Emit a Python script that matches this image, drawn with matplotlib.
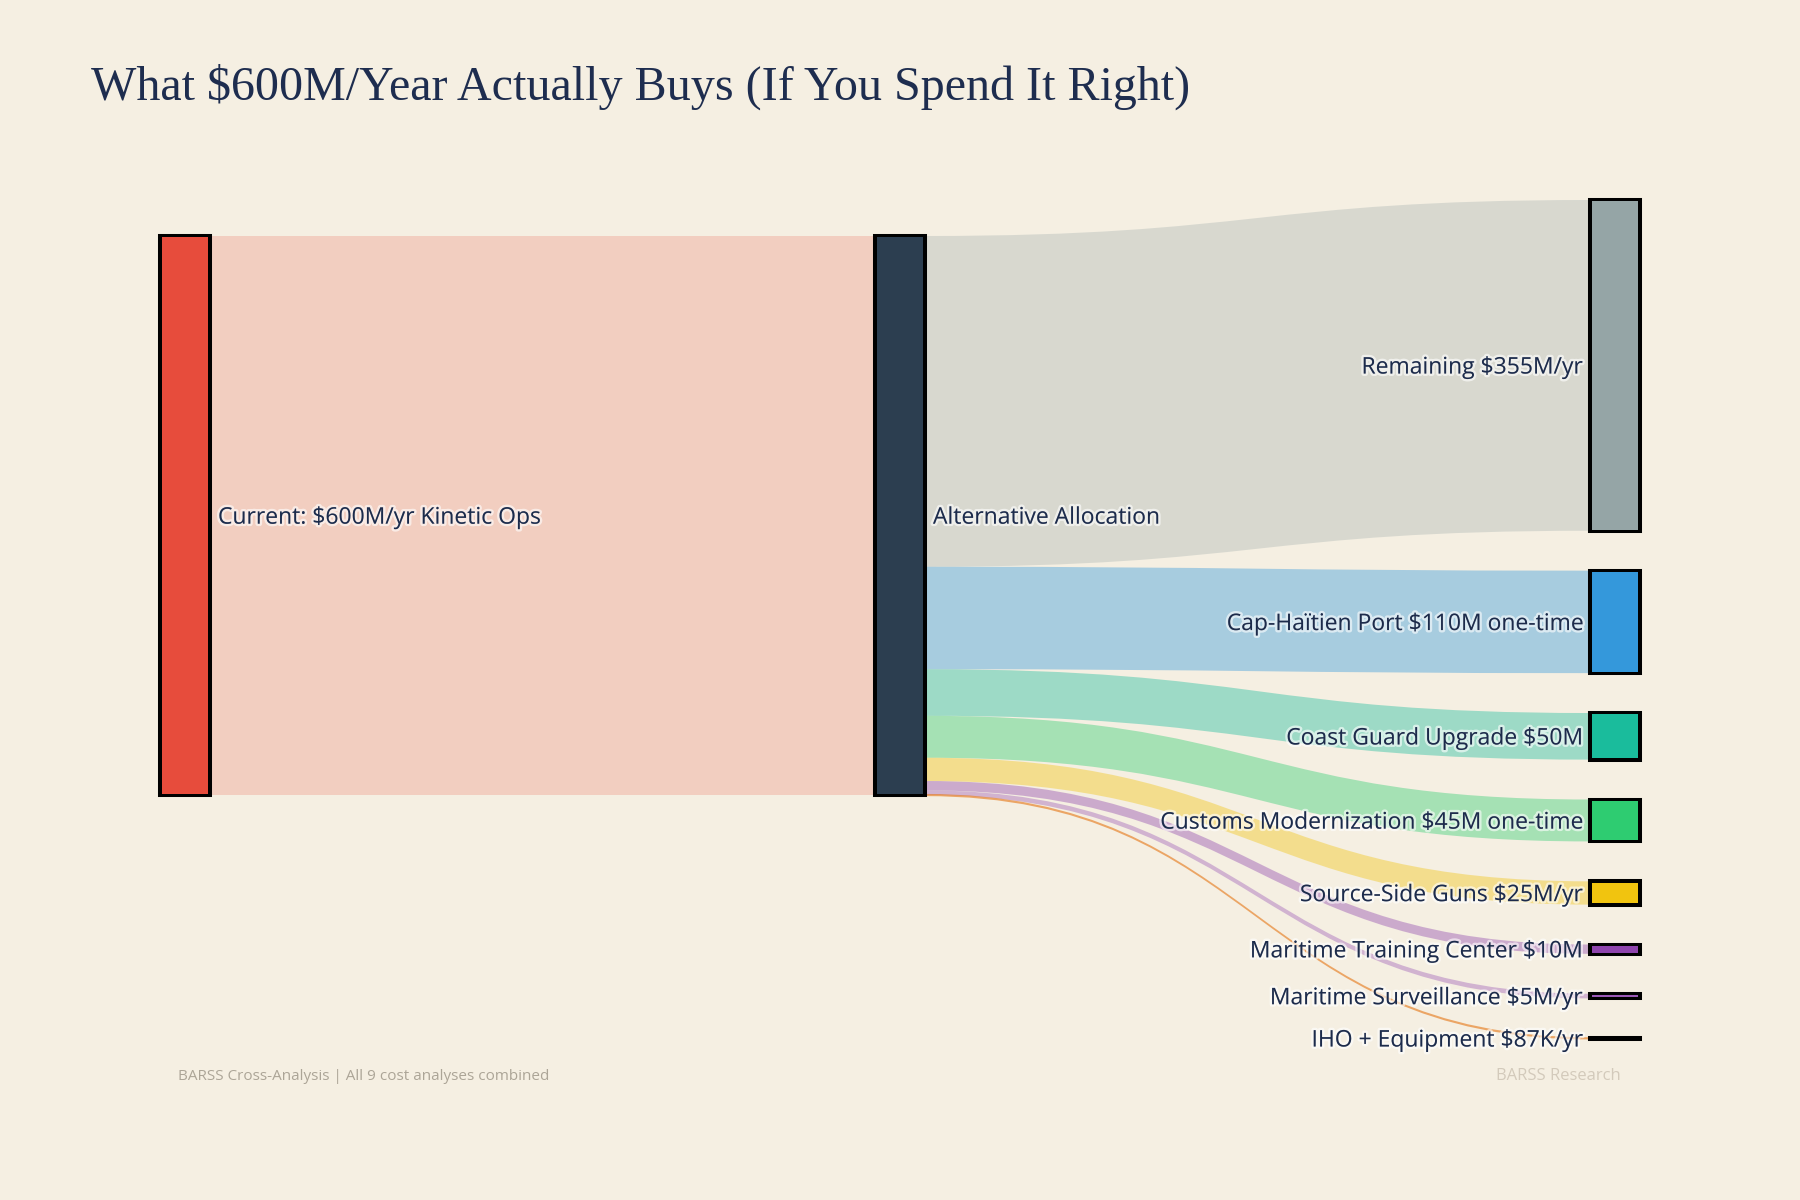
import matplotlib
matplotlib.use("Agg")
import matplotlib.pyplot as plt
from matplotlib.path import Path
from matplotlib.patches import PathPatch, Rectangle
import matplotlib.patheffects as pe

# ---------------- data ----------------
source_label = "Current: $600M/yr Kinetic Ops"
source_value = 600
middle_label = "Alternative Allocation"
target_labels = [
    "Remaining $355M/yr",
    "Cap-Haïtien Port $110M one-time",
    "Coast Guard Upgrade $50M",
    "Customs Modernization $45M one-time",
    "Source-Side Guns $25M/yr",
    "Maritime Training Center $10M",
    "Maritime Surveillance $5M/yr",
    "IHO + Equipment $87K/yr",
]
target_values = [355, 110, 50, 45, 25, 10, 5, 0.087]
target_colors = ["#95a5a6", "#3498db", "#1abc9c", "#2ecc71", "#f1c40f",
                 "#8e44ad", "#9b59b6", "#e67e22"]
link_alphas = [0.3, 0.4, 0.4, 0.4, 0.4, 0.4, 0.4, 0.65]
source_color = "#e74c3c"
middle_color = "#2c3e50"
title = "What $600M/Year Actually Buys (If You Spend It Right)"
footer_left = "BARSS Cross-Analysis | All 9 cost analyses combined"
footer_right = "BARSS Research"

# ---------------- layout ----------------
W, H = 1800, 1200
BG = "#f5efe2"
TXT = "#1c2b4b"
col_x = [160, 875, 1590]
node_w = 50
scale = 559.0 / 600.0
left_top = 236
right_top = 200
pad = 39.9
SANS = ["Open Sans", "DejaVu Sans"]
lab_fs = 16.5
cap_half = lab_fs * 100 / 72 * 0.714 / 2  # half cap height in px

fig = plt.figure(figsize=(18, 12), dpi=100, facecolor=BG)
ax = fig.add_axes([0, 0, 1, 1])
ax.set_xlim(0, W)
ax.set_ylim(H, 0)
ax.axis("off")
ax.set_facecolor(BG)

halo = [pe.withStroke(linewidth=3.5, foreground=(1, 1, 1, 0.6))]


def ribbon(x0, x1, y0t, y0b, y1t, y1b, color, alpha, minw=0.0):
    if y0b - y0t < minw:
        c0 = (y0t + y0b) / 2
        y0t, y0b = c0 - minw / 2, c0 + minw / 2
    if y1b - y1t < minw:
        c1 = (y1t + y1b) / 2
        y1t, y1b = c1 - minw / 2, c1 + minw / 2
    xm = (x0 + x1) / 2
    verts = [(x0, y0t), (xm, y0t), (xm, y1t), (x1, y1t),
             (x1, y1b), (xm, y1b), (xm, y0b), (x0, y0b), (x0, y0t)]
    codes = [Path.MOVETO, Path.CURVE4, Path.CURVE4, Path.CURVE4,
             Path.LINETO, Path.CURVE4, Path.CURVE4, Path.CURVE4, Path.CLOSEPOLY]
    ax.add_patch(PathPatch(Path(verts, codes), facecolor=color, alpha=alpha,
                           edgecolor="none", zorder=1))


def node(x, y, h, color):
    hh = max(h, 1.0)
    ax.add_patch(Rectangle((x, y), node_w, hh, facecolor="none",
                           edgecolor="black", linewidth=2.9, zorder=3))
    # fill drawn above border so tiny nodes keep their colour visible
    ax.add_patch(Rectangle((x + 2, y + min(1.2, hh / 4)), node_w - 4,
                           max(hh - 2.4, hh / 2) if hh > 3 else 0,
                           facecolor=color, edgecolor="none", zorder=3.5))


# source -> middle
src_h = source_value * scale
ribbon(col_x[0] + node_w, col_x[1], left_top, left_top + src_h,
       left_top, left_top + src_h, source_color, 0.2)

# middle -> targets
y_mid = left_top
y_right = right_top
right_pos = []
for lab, v, c, a in zip(target_labels, target_values, target_colors, link_alphas):
    h = v * scale
    ribbon(col_x[1] + node_w, col_x[2], y_mid, y_mid + h, y_right, y_right + h,
           c, a, minw=2.2)
    right_pos.append((y_right, h))
    y_mid += h
    y_right += h + pad

# nodes
node(col_x[0], left_top, src_h, source_color)
node(col_x[1], left_top, src_h, middle_color)
for (y, h), c in zip(right_pos, target_colors):
    node(col_x[2], y, h, c)

# labels
ax.text(col_x[0] + node_w + 8, left_top + src_h / 2 + cap_half, source_label,
        fontsize=lab_fs, family=SANS, color=TXT, ha="left", va="baseline",
        zorder=4, path_effects=halo)
ax.text(col_x[1] + node_w + 8, left_top + src_h / 2 + cap_half, middle_label,
        fontsize=lab_fs, family=SANS, color=TXT, ha="left", va="baseline",
        zorder=4, path_effects=halo)
for lab, (y, h) in zip(target_labels, right_pos):
    ax.text(col_x[2] - 7, y + h / 2 + cap_half, lab, fontsize=lab_fs, family=SANS,
            color=TXT, ha="right", va="baseline", zorder=4, path_effects=halo)

# title
ax.text(91, 100, title, fontsize=34.6, family=["Liberation Serif", "DejaVu Serif"],
        color="#1e2d4f", ha="left", va="baseline")

# footers
ax.text(178, 1076, footer_left, fontsize=11, family=SANS, color="#aca597",
        ha="left", va="center")
ax.text(1621, 1076, footer_right, fontsize=12, family=SANS, color="#d3cabb",
        ha="right", va="center")

fig.savefig("out.png", dpi=100, facecolor=BG)
